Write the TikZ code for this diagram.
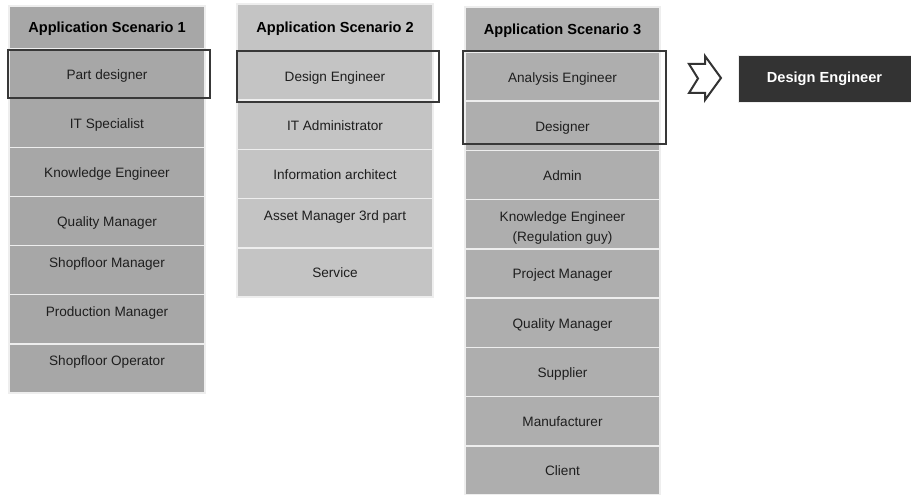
\documentclass[tikz,border=0pt]{standalone}
\usepackage{fontspec}
\setmainfont{Liberation Sans}
\definecolor{colA}{HTML}{A7A7A7}
\definecolor{colB}{HTML}{C4C4C4}
\definecolor{colC}{HTML}{AEAEAE}
\definecolor{sepc}{HTML}{EEEEEE}
\definecolor{txt}{HTML}{1E1E1E}
\definecolor{hlc}{HTML}{383838}
\definecolor{darkbox}{HTML}{333333}
\begin{document}
\begin{tikzpicture}[x=1pt,y=-1pt,
  cell/.style={draw=sepc, line width=1.5pt, minimum width=196pt, inner sep=0pt,
    text=txt, font=\fontsize{13.6}{16}\selectfont, align=center,
    text height=14pt, text depth=3pt},
  upper/.style={text depth=19pt},
  hd/.style={cell, font=\bfseries\fontsize{14.6}{17}\selectfont, text=black},
  hl/.style={draw=hlc, line width=2.8pt},
  result/.style={fill=darkbox, draw=sepc, line width=0.8pt, minimum width=173pt,
    minimum height=47pt, inner sep=0pt, text=white,
    font=\bfseries\fontsize{14.6}{17}\selectfont},
  arrowshape/.style={draw=darkbox, line width=2pt, line join=miter}
]
\useasboundingbox (0,0) rectangle (911,495);
\fill[white] (0,0) rectangle (911,495);

% Column 1
\node[hd, fill=colA, minimum height=43pt] (a0) at (107,27.5) {Application Scenario 1};
\foreach \t/\s [count=\i] in {Part designer/, IT Specialist/, Knowledge Engineer/,
  Quality Manager/, Shopfloor Manager/upper, Production Manager/upper, Shopfloor Operator/upper}
  \node[cell, fill=colA, minimum height=49.14pt, \s] (a\i) at (107,{49+(\i-0.5)*49.14}) {\t};

% Column 2
\node[hd, fill=colB, minimum height=47pt] (b0) at (335,27.5) {Application Scenario 2};
\foreach \t/\s [count=\i] in {Design Engineer/, IT Administrator/, Information architect/,
  Asset Manager 3rd part/upper, Service/}
  \node[cell, fill=colB, minimum height=49.2pt, \s] (b\i) at (335,{51+(\i-0.5)*49.2}) {\t};

% Column 3
\node[hd, fill=colC, minimum height=45pt, minimum width=195pt] (c0) at (562.5,29.5) {Application Scenario 3};
\foreach \t [count=\i] in {Analysis Engineer, Designer, Admin, {}, Project Manager,
  Quality Manager, Supplier, Manufacturer, Client}
  \node[cell, fill=colC, minimum height=49.22pt, minimum width=195pt] (c\i) at (562.5,{52+(\i-0.5)*49.22}) {\t};
\node[text=txt, font=\fontsize{13.6}{20}\selectfont, align=center, inner sep=0pt]
  (c4t) at ([yshift=-4pt]c4.center) {Knowledge Engineer\\(Regulation guy)};

% Highlights
\draw[hl] (8,50) rectangle (210,98);
\draw[hl] (237,51) rectangle (439,102);
\draw[hl] (463,51) rectangle (666,144);

% Arrow
\draw[arrowshape] (689,64) -- (705,64) -- (705,56) -- (721,78) -- (705,100)
  -- (705,93) -- (689,93) -- (698,78.5) -- cycle;

% Result
\node[result] (res) at (824.5,78.5) {Design Engineer};
\end{tikzpicture}
\end{document}
